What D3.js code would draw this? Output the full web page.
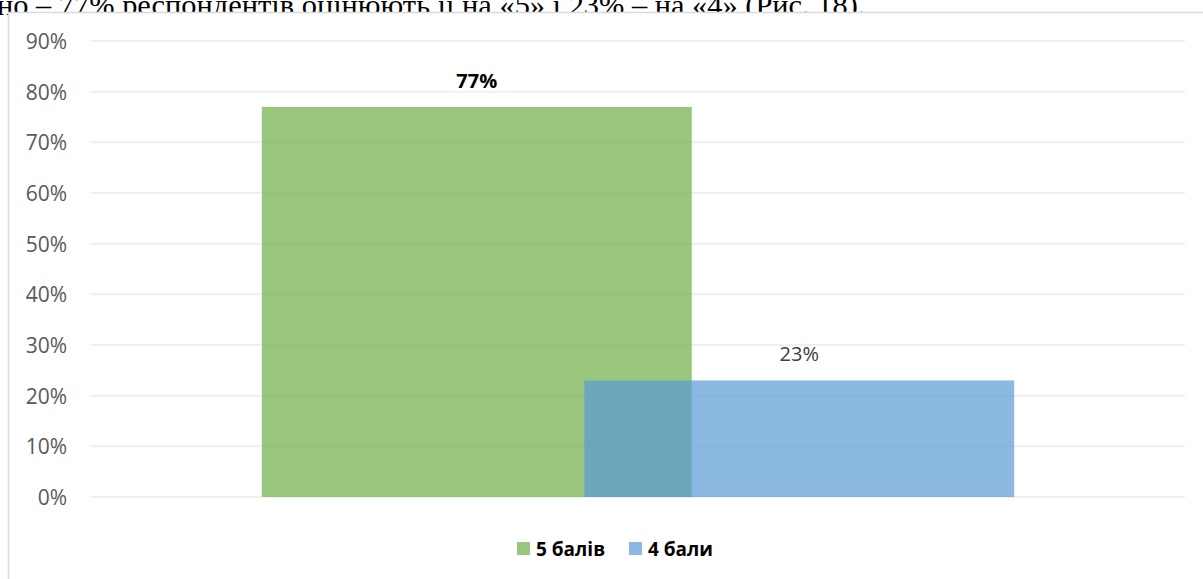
<!DOCTYPE html>
<html>
<head>
<meta charset="utf-8">
<script src="https://cdn.jsdelivr.net/npm/d3@7"></script>
<style>
  body { margin: 0; background: #fff; }
  svg { display: block; }
</style>
</head>
<body>
<div id="chart"></div>
<script>
// ==== Data ====
const categories = ["Оцінка"];
const seriesNames = ["5 балів", "4 бали"];
const seriesValues = [0.77, 0.23];
const seriesColors = ["#70ad47", "#5b9bd5"];
const yTicks = [0, 0.1, 0.2, 0.3, 0.4, 0.5, 0.6, 0.7, 0.8, 0.9];
const captionText = "но – 77% респондентів оцінюють її на «5» і 23% – на «4» (Рис. 18).";

const W = 1203, H = 579;

const svg = d3.select("#chart")
    .append("svg")
    .attr("width", W)
    .attr("height", H);

// text line from the document above the chart (cut off by the chart box)
svg.append("text")
    .attr("x", -3)
    .attr("y", 15)
    .style("font-family", "'Liberation Serif', 'Times New Roman', serif")
    .style("font-size", "30.4px")
    .attr("fill", "#000")
    .text(captionText);

// chart box
svg.append("rect")
    .attr("x", 8.5)
    .attr("y", 12.5)
    .attr("width", W)
    .attr("height", H)
    .attr("fill", "#fff")
    .attr("stroke", "#d9d9d9")
    .attr("stroke-width", 1.5);

const plot = { left: 91, right: 1185, top: 41, bottom: 497 };

const y = d3.scaleLinear()
    .domain([0, 0.9])
    .range([plot.bottom, plot.top]);

const x = d3.scaleBand()
    .domain(categories)
    .range([plot.left, plot.right])
    .paddingInner(0)
    .paddingOuter(0.227);

// gridlines
svg.append("g")
    .selectAll("line")
    .data(yTicks)
    .enter()
    .append("line")
    .attr("x1", plot.left)
    .attr("x2", plot.right)
    .attr("y1", d => y(d))
    .attr("y2", d => y(d))
    .attr("stroke", "#efefef")
    .attr("stroke-width", 2);

// y axis labels
const yAxis = d3.axisLeft(y)
    .tickValues(yTicks)
    .tickFormat(d3.format(".0%"))
    .tickSize(0)
    .tickPadding(0);

const yg = svg.append("g")
    .attr("transform", "translate(67,0)")
    .call(yAxis);
yg.select(".domain").remove();
yg.selectAll("text")
    .attr("fill", "#595959")
    .attr("dy", "0.36em")
    .style("font-family", "'Open Sans', sans-serif")
    .style("font-size", "21px");

// bars: two series overlapping by 25%
const overlap = 0.25;
const barW = x.bandwidth() / (2 - overlap);
const step = barW * (1 - overlap);

const bars = svg.append("g");
seriesValues.forEach((v, i) => {
    const bx = x(categories[0]) + i * step;
    bars.append("rect")
        .attr("x", bx)
        .attr("y", y(v))
        .attr("width", barW)
        .attr("height", y(0) - y(v))
        .attr("fill", seriesColors[i])
        .attr("fill-opacity", 0.71);

    bars.append("text")
        .attr("x", bx + barW / 2)
        .attr("y", y(v) - 19)
        .attr("text-anchor", "middle")
        .attr("fill", i === 0 ? "#000" : "#404040")
        .style("font-family", "'Open Sans', sans-serif")
        .style("font-size", "20px")
        .style("font-weight", i === 0 ? "bold" : "normal")
        .text(d3.format(".0%")(v));
});

// legend
const legendX = [517, 629];
const legend = svg.append("g");
seriesNames.forEach((name, i) => {
    legend.append("rect")
        .attr("x", legendX[i])
        .attr("y", 542)
        .attr("width", 13)
        .attr("height", 13)
        .attr("fill", seriesColors[i])
        .attr("fill-opacity", 0.71);
    legend.append("text")
        .attr("x", legendX[i] + 19)
        .attr("y", 549)
        .attr("dy", "0.36em")
        .attr("fill", "#000")
        .style("font-family", "'Open Sans', sans-serif")
        .style("font-size", "19px")
        .style("font-weight", "bold")
        .text(name);
});
</script>
</body>
</html>
